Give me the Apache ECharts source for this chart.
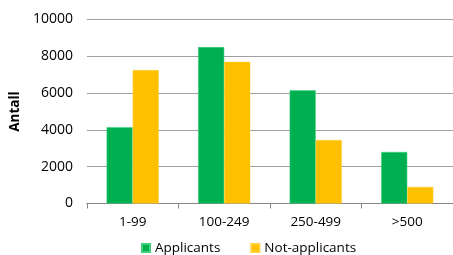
<!DOCTYPE html>
<html>
<head>
<meta charset="utf-8">
<script src="https://cdn.jsdelivr.net/npm/echarts@6/dist/echarts.min.js"></script>
<style>
  html, body { margin: 0; padding: 0; background: #fff; }
  #chart { width: 453px; height: 255px; }
</style>
</head>
<body>
<div id="chart"></div>
<script>
// data
var categories = ['1-99', '100-249', '250-499', '>500']
var applicants = [4150, 8500, 6150, 2800]
var notApplicants = [7250, 7700, 3450, 900]
var yTicks = { min: 0, max: 10000, step: 2000 }

var myChart = echarts.init(document.getElementById('chart'))
var font = 'Open Sans, Liberation Sans, sans-serif'

myChart.setOption({
  animation: false,
  textStyle: { fontFamily: font },
  grid: { left: 82, right: -10, top: 19.5, bottom: 51.5 },
  legend: {
    left: 136,
    top: 236,
    itemWidth: 8,
    itemHeight: 8,
    itemGap: 30,
    icon: 'rect',
    textStyle: { color: '#000', fontSize: 13.5, fontFamily: font },
    data: ['Applicants', 'Not-applicants']
  },
  xAxis: {
    type: 'category',
    data: categories,
    axisLine: { lineStyle: { color: '#868686' } },
    axisTick: { show: true, length: 5, lineStyle: { color: '#868686' } },
    axisLabel: { color: '#000', fontSize: 13.5, margin: 12, fontFamily: font }
  },
  yAxis: {
    type: 'value',
    min: yTicks.min,
    max: yTicks.max,
    interval: yTicks.step,
    name: 'Antall',
    nameLocation: 'middle',
    nameRotate: 90,
    nameGap: 58,
    nameTextStyle: { color: '#000', fontSize: 13.5, fontWeight: 'bold', fontFamily: font },
    axisLine: { show: false },
    axisTick: { show: false },
    axisLabel: {
      color: '#000', fontSize: 14, margin: 14, fontFamily: font,
      formatter: function (v) { return String(v) }
    },
    splitLine: { lineStyle: { color: '#a0a0a0' } }
  },
  series: [
    {
      name: 'Applicants',
      type: 'bar',
      data: applicants,
      barGap: '0%',
      barCategoryGap: '43%',
      itemStyle: { color: '#00b050', borderColor: '#3cd07a', borderWidth: 0.5 }
    },
    {
      name: 'Not-applicants',
      type: 'bar',
      data: notApplicants,
      itemStyle: { color: '#ffc000', borderColor: '#ffd040', borderWidth: 0.5 }
    }
  ]
})
</script>
</body>
</html>
